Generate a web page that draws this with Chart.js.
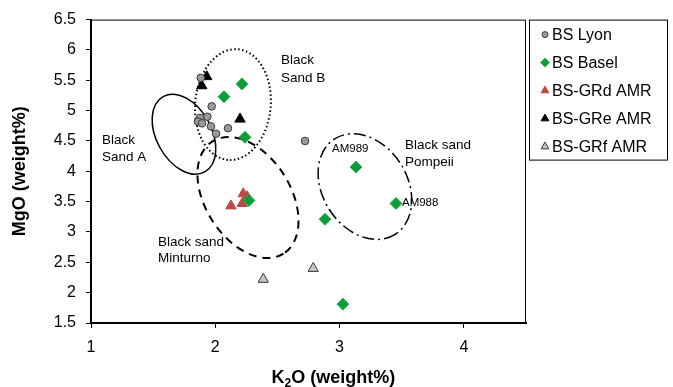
<!DOCTYPE html>
<html>
<head>
<meta charset="utf-8">
<script src="https://cdn.jsdelivr.net/npm/chart.js@4.4.1/dist/chart.umd.min.js"></script>
<style>
  html, body { margin: 0; padding: 0; background: #fff; }
  #wrap { width: 673px; height: 387px; }
</style>
</head>
<body>
<div id="wrap"><canvas id="chart" width="673" height="387"></canvas></div>
<script>
// K2O (x) / MgO (y) values
const lyonK2O = [1.883, 1.971, 1.936, 1.877, 1.861, 1.893, 1.965, 2.006, 2.102, 2.722];
const lyonMgO = [5.54, 5.07, 4.90, 4.88, 4.82, 4.79, 4.74, 4.62, 4.71, 4.50];

const baselK2O = [2.215, 2.07, 2.239, 2.271, 2.883, 3.132, 3.454, 3.027];
const baselMgO = [5.44, 5.23, 4.56, 3.52, 3.21, 4.07, 3.47, 1.81];

const grdK2O = [2.225, 2.257, 2.126, 2.217];
const grdMgO = [3.63, 3.58, 3.43, 3.47];

const greK2O = [1.931, 1.891, 2.199];
const greMgO = [5.56, 5.41, 4.86];

const grfK2O = [2.386, 2.788];
const grfMgO = [2.22, 2.40];

const xTicks = [1, 2, 3, 4];

// field outlines: centre, end of long axis (data units), short/long ratio
const fieldNames  = ['A', 'B', 'Minturno', 'Pompeii'];
const fieldCentre = [[1.748, 4.611], [2.142, 5.099], [2.263, 3.568], [3.204, 3.748]];
const fieldEnd    = [[1.915, 3.99], [2.102, 4.187], [2.549, 2.643], [3.447, 2.961]];
const fieldRatio  = [0.64, 0.68, 0.64, 0.75];
const fieldDash   = [[], [1.5, 2.5], [8, 6], [12, 4, 2, 4]];
const fieldWidth  = [1.5, 2, 2, 1.5];

// text labels on the plot
const noteText = ['Black', 'Sand A', 'Black', 'Sand B', 'Black sand', 'Minturno',
                  'Black sand', 'Pompeii', 'AM989', 'AM988'];
const noteX = [1.088, 1.088, 2.529, 2.529, 1.539, 1.539, 3.526, 3.526, 2.939, 3.502];
const noteY = [4.513, 4.236, 5.832, 5.539, 2.835, 2.559, 4.432, 4.155, 4.366, 3.487];
const noteSize = [13.5, 13.5, 13.5, 13.5, 13.5, 13.5, 13.5, 13.5, 11.5, 11.5];

const FONT = "'Liberation Sans', Arial, sans-serif";

function pts(xs, ys) {
    return xs.map((x, i) => ({ x: x, y: ys[i] }));
}

const fieldsPlugin = {
    id: 'fields',
    beforeDatasetsDraw(chart) {
        const ctx = chart.ctx;
        const xs = chart.scales.x, ys = chart.scales.y;
        ctx.save();
        ctx.strokeStyle = '#000';
        fieldNames.forEach((name, i) => {
            const cx = xs.getPixelForValue(fieldCentre[i][0]);
            const cy = ys.getPixelForValue(fieldCentre[i][1]);
            const ex = xs.getPixelForValue(fieldEnd[i][0]);
            const ey = ys.getPixelForValue(fieldEnd[i][1]);
            const a = Math.hypot(ex - cx, ey - cy);
            const rot = Math.atan2(ey - cy, ex - cx);
            ctx.lineWidth = fieldWidth[i];
            ctx.setLineDash(fieldDash[i]);
            ctx.beginPath();
            ctx.ellipse(cx, cy, a, a * fieldRatio[i], rot, 0, Math.PI * 2);
            ctx.stroke();
        });
        ctx.restore();
    },
    afterDraw(chart) {
        const ctx = chart.ctx;
        const xs = chart.scales.x, ys = chart.scales.y;
        const area = chart.chartArea;
        ctx.save();

        // thin top and right frame
        ctx.strokeStyle = '#000';
        ctx.lineWidth = 1;
        ctx.beginPath();
        ctx.moveTo(area.left, area.top + 0.5);
        ctx.lineTo(area.right - 0.5, area.top + 0.5);
        ctx.lineTo(area.right - 0.5, area.bottom);
        ctx.stroke();

        // notes
        ctx.fillStyle = '#000';
        ctx.textAlign = 'left';
        ctx.textBaseline = 'middle';
        noteText.forEach((t, i) => {
            ctx.font = noteSize[i] + 'px ' + FONT;
            ctx.fillText(t, xs.getPixelForValue(noteX[i]), ys.getPixelForValue(noteY[i]));
        });

        // x axis title with subscript
        const parts = [['K', 18, 0], ['2', 12, 4], ['O (weight%)', 18, 0]];
        ctx.textBaseline = 'alphabetic';
        let total = 0;
        parts.forEach(p => {
            ctx.font = 'bold ' + p[1] + 'px ' + FONT;
            total += ctx.measureText(p[0]).width;
        });
        let tx = area.left + area.width * 0.557 - total / 2;
        const ty = chart.height - 4;
        parts.forEach(p => {
            ctx.font = 'bold ' + p[1] + 'px ' + FONT;
            ctx.fillText(p[0], tx, ty + p[2]);
            tx += ctx.measureText(p[0]).width;
        });

        // legend box
        const lx = area.right + 3, ly = area.top, lw = 138, lh = 140;
        ctx.textBaseline = 'middle';
        ctx.lineWidth = 1;
        ctx.strokeRect(lx + 0.5, ly + 0.5, lw, lh);
        ctx.font = '16px ' + FONT;
        chart.data.datasets.forEach((ds, i) => {
            const y = ly + 15 + i * 28;
            ctx.fillStyle = ds.backgroundColor;
            ctx.strokeStyle = ds.borderColor;
            Chart.helpers.drawPoint(ctx, {
                pointStyle: ds.pointStyle,
                radius: ds.pointStyle === 'circle' ? 3 : 4.5,
                borderWidth: ds.borderWidth,
                rotation: 0
            }, lx + 16, y);
            ctx.fillStyle = '#000';
            ctx.fillText(ds.label, lx + 23, y + 1);
        });
        ctx.restore();
    }
};

const axisCommon = {
    type: 'linear',
    grid: {
        drawOnChartArea: false,
        drawTicks: true,
        tickLength: 5,
        color: '#000',
        lineWidth: 1
    },
    border: { display: true, color: '#000', width: 2 }
};

const config = {
    type: 'scatter',
    data: {
        datasets: [
            {
                label: 'BS Lyon',
                data: pts(lyonK2O, lyonMgO),
                pointStyle: 'circle',
                backgroundColor: '#9a9a9a',
                borderColor: '#3a3a3a',
                borderWidth: 1,
                pointRadius: 3.8
            },
            {
                label: 'BS Basel',
                data: pts(baselK2O, baselMgO),
                pointStyle: 'rectRot',
                backgroundColor: '#109a3c',
                borderColor: '#2bb055',
                borderWidth: 1,
                pointRadius: 6
            },
            {
                label: 'BS-GRd AMR',
                data: pts(grdK2O, grdMgO),
                pointStyle: 'triangle',
                backgroundColor: '#b84c48',
                borderColor: '#b84c48',
                borderWidth: 1,
                pointRadius: 6
            },
            {
                label: 'BS-GRe AMR',
                data: pts(greK2O, greMgO),
                pointStyle: 'triangle',
                backgroundColor: '#000',
                borderColor: '#000',
                borderWidth: 1,
                pointRadius: 6
            },
            {
                label: 'BS-GRf AMR',
                data: pts(grfK2O, grfMgO),
                pointStyle: 'triangle',
                backgroundColor: '#c4c4c4',
                borderColor: '#3a3a3a',
                borderWidth: 1,
                pointRadius: 6
            }
        ]
    },
    options: {
        responsive: false,
        animation: false,
        devicePixelRatio: 1,
        layout: { padding: { top: 16, right: 147, left: 0, bottom: 0 } },
        plugins: {
            legend: { display: false },
            tooltip: { enabled: false }
        },
        scales: {
            x: {
                ...axisCommon,
                position: 'bottom',
                min: 1,
                max: 4.5,
                afterBuildTicks(scale) {
                    scale.ticks = xTicks.map(v => ({ value: v }));
                },
                afterFit(scale) { scale.height = 64; },
                ticks: {
                    color: '#000',
                    padding: 10,
                    font: { family: FONT, size: 16 }
                },
                title: { display: false }
            },
            y: {
                ...axisCommon,
                position: 'left',
                min: 1.5,
                max: 6.5,
                afterFit(scale) { scale.width = 91; },
                ticks: {
                    stepSize: 0.5,
                    color: '#000',
                    padding: 10,
                    font: { family: FONT, size: 16 },
                    callback: v => String(v)
                },
                title: {
                    display: true,
                    text: 'MgO (weight%)',
                    color: '#000',
                    padding: { top: 9, bottom: 0 },
                    font: { family: FONT, size: 18, weight: 'bold' }
                }
            }
        }
    },
    plugins: [fieldsPlugin]
};

new Chart(document.getElementById('chart').getContext('2d'), config);
</script>
</body>
</html>
